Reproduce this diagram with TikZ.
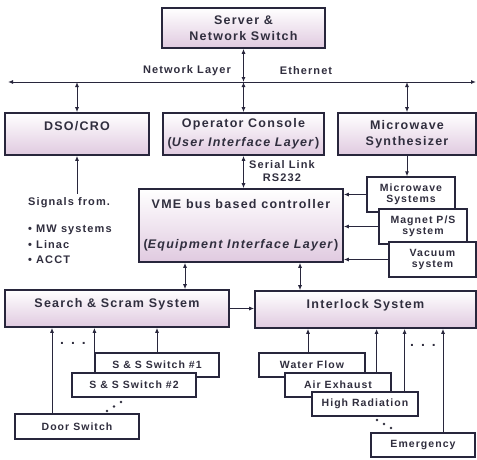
\documentclass[tikz,border=0pt]{standalone}
\usepackage{fontspec}
\setmainfont{Liberation Sans}[LetterSpace=10]
\usetikzlibrary{arrows.meta}
\definecolor{inkgray}{RGB}{48,46,62}
\definecolor{edgegray}{RGB}{40,38,60}
\definecolor{boxpink}{RGB}{224,202,224}

\begin{document}
\begin{tikzpicture}[x=1pt, y=-1pt, text=inkgray]

\tikzstyle{mainbox}=[rectangle, draw=edgegray, line width=1.6pt, top color=white, bottom color=boxpink, inner sep=0pt, align=center, font=\fontsize{12.5}{16}\selectfont\bfseries]
\tikzstyle{subbox}=[rectangle, draw=edgegray, line width=1.2pt, fill=white, inner sep=0pt, align=center, font=\fontsize{10.5}{11.5}\selectfont\bfseries]
\tikzstyle{lbl}=[inner sep=0pt, align=center, font=\fontsize{11}{13}\selectfont\bfseries]
\tikzstyle{arrow}=[-{Latex[length=5pt,width=4pt]}, draw=edgegray, line width=1pt]
\tikzstyle{biarrow}=[{Latex[length=5pt,width=4pt]}-{Latex[length=5pt,width=4pt]}, draw=edgegray, line width=1pt]
\tikzstyle{dot}=[fill=inkgray]

\useasboundingbox (0,0) rectangle (477,459);

% network layer
\node (server) [mainbox, minimum width=163pt, minimum height=40pt] at (243.5,28) {Server \&\\Network Switch};
\coordinate (ethL) at (8,82);
\coordinate (ethR) at (476,82);
\draw [biarrow] (ethL) -- (ethR);
\draw [biarrow] (server.south) -- (server.south |- ethL);
\node (netlayer) [lbl] at (187,71) {Network Layer};
\node (ethernet) [lbl] at (306,71) {Ethernet};

\node (dso) [mainbox, minimum width=144pt, minimum height=42pt, text depth=16pt] at (77,134) {DSO/CRO};
\node (opcon) [mainbox, minimum width=161pt, minimum height=42pt] at (243.5,134) {Operator Console\\[3pt](\textit{User Interface Layer})};
\node (mwsyn) [mainbox, minimum width=138pt, minimum height=42pt] at (407,134) {Microwave\\Synthesizer};

\draw [biarrow] (dso.north |- ethL) -- (dso.north);
\draw [biarrow] (opcon.north |- ethL) -- (opcon.north);
\draw [biarrow] (mwsyn.north |- ethL) -- (mwsyn.north);

% signals into the DSO
\node (signals) [lbl, anchor=west] at (28,203) {Signals from.};
\node (srcs) [lbl, anchor=north west, align=left, font=\fontsize{11}{15.5}\selectfont\bfseries] at (28,225) {• MW systems\\• Linac\\• ACCT};
\draw [arrow] ([yshift=4pt]signals.north -| dso.south) -- (dso.south);

% equipment interface layer
\node (vme) [mainbox, minimum width=204pt, minimum height=73pt] at (241,225.5) {VME bus based controller\\[24pt](\textit{Equipment Interface Layer})};
\draw [biarrow] (opcon.south) -- (opcon.south |- vme.north);
\node (serial) [lbl, anchor=west] at (249,171.5) {Serial Link\\RS232};

\node (mws) [subbox, minimum width=88pt, minimum height=35pt] at (411,194.5) {Microwave\\Systems};
\node (mag) [subbox, minimum width=88pt, minimum height=35pt] at (423,226.5) {Magnet P/S\\system};
\node (vac) [subbox, minimum width=87pt, minimum height=35pt] at (432.5,259.5) {Vacuum\\system};
\draw [arrow] (mwsyn.south) -- (mwsyn.south |- mws.north);
\draw [arrow] (mws.west) -- (mws.west -| vme.east);
\draw [arrow] (mag.west) -- (mag.west -| vme.east);
\draw [arrow] (vac.west) -- (vac.west -| vme.east);

% safety systems
\node (scram) [mainbox, minimum width=224pt, minimum height=37pt, text depth=11pt] at (117,308.5) {Search \& Scram System};
\node (ilock) [mainbox, minimum width=221pt, minimum height=37pt, text depth=11pt] at (365.5,309.5) {Interlock System};
\coordinate (vmeL) at ([xshift=-56pt]vme.south);
\coordinate (vmeR) at ([xshift=59pt]vme.south);
\draw [biarrow] (vmeL) -- (vmeL |- scram.north);
\draw [biarrow] (vmeR) -- (vmeR |- ilock.north);
\draw [arrow] (scram.east) -- (scram.east -| ilock.west);

% search and scram switches
\node (ss1) [subbox, minimum width=124pt, minimum height=24pt] at (157,365) {S \& S Switch \#1};
\node (ss2) [subbox, minimum width=124pt, minimum height=24pt] at (134,385) {S \& S Switch \#2};
\node (door) [subbox, minimum width=124pt, minimum height=25pt] at (77,426.5) {Door Switch};
\coordinate (ss2tap) at ([xshift=23pt]ss2.north west);
\coordinate (doortap) at ([xshift=-25pt]door.north);
\draw [arrow] (ss1.north) -- (ss1.north |- scram.south);
\draw [arrow] (ss2tap) -- (ss2tap |- scram.south);
\draw [arrow] (doortap) -- (doortap |- scram.south);
\node (ssdots) [lbl, font=\fontsize{14}{14}\selectfont\bfseries] at (73,343) {. . .};
\fill [dot] (107,411) circle (1.4pt) (114,406.5) circle (1.4pt) (121,402) circle (1.4pt);

% interlock inputs
\node (water) [subbox, minimum width=106pt, minimum height=24pt] at (312,365) {Water Flow};
\node (air) [subbox, minimum width=106pt, minimum height=24pt] at (338,385) {Air Exhaust};
\node (hirad) [subbox, minimum width=106pt, minimum height=24pt] at (365,404) {High Radiation};
\node (emerg) [subbox, minimum width=104pt, minimum height=24pt] at (423,445) {Emergency};
\coordinate (watertap) at ([xshift=-4pt]water.north);
\coordinate (airtap) at ([xshift=-15pt]air.north east);
\coordinate (hiradtap) at ([xshift=-14pt]hirad.north east);
\coordinate (emergtap) at ([xshift=20pt]emerg.north);
\draw [arrow] (watertap) -- (watertap |- ilock.south);
\draw [arrow] (airtap) -- (airtap |- ilock.south);
\draw [arrow] (hiradtap) -- (hiradtap |- ilock.south);
\draw [arrow] (emergtap) -- (emergtap |- ilock.south);
\node (ildots) [lbl, font=\fontsize{14}{14}\selectfont\bfseries] at (423,345) {. . .};
\fill [dot] (377,420) circle (1.4pt) (384,424) circle (1.4pt) (391,428) circle (1.4pt);

\end{tikzpicture}
\end{document}
